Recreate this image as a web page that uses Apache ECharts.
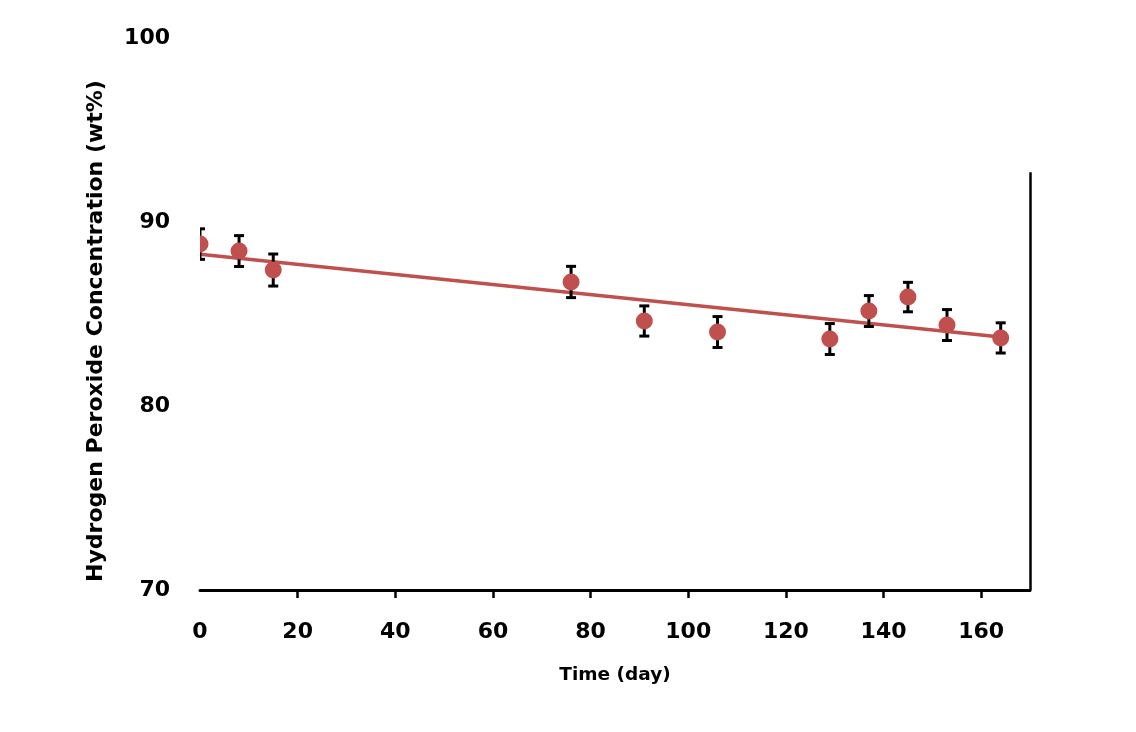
<!DOCTYPE html>
<html><head><meta charset="utf-8">
<script src="https://cdn.jsdelivr.net/npm/echarts@6/dist/echarts.min.js"></script>
<style>html,body{margin:0;padding:0;background:#fff}#c{width:1136px;height:732px}</style>
</head><body><div id="c"></div>
<script>
const days = [0, 8, 15, 76, 91, 106, 129, 137, 145, 153, 164];
const conc = [88.80, 88.42, 87.39, 86.74, 84.62, 84.02, 83.64, 85.16, 85.92, 84.40, 83.70];
const errs = [0.83, 0.84, 0.87, 0.85, 0.82, 0.84, 0.84, 0.84, 0.80, 0.84, 0.82];
const trendX = [0, 164];
const trendY = [88.25, 83.75];
const xTicks = [0, 20, 40, 60, 80, 100, 120, 140, 160];
const yTicks = [70, 80, 90, 100];
const rightLine = [[170, 70], [170, 92.7]];

const font = '"DejaVu Sans", sans-serif';
const red = '#c0504d';
const chart = echarts.init(document.getElementById('c'));
chart.setOption({
  animation: false,
  grid: { left: 200, right: 106, top: 38, bottom: 142 },
  xAxis: {
    type: 'value', min: 0, max: 170, interval: 20,
    name: 'Time (day)', nameLocation: 'middle', nameGap: 76,
    nameTextStyle: { fontFamily: font, fontWeight: 'bold', fontSize: 18.5, color: '#000' },
    axisLine: { show: true, lineStyle: { color: '#000', width: 3 } },
    axisTick: { show: true, length: 8, inside: false, customValues: xTicks.slice(1), lineStyle: { color: '#000', width: 2.5 } },
    axisLabel: { customValues: xTicks, margin: 31, fontFamily: font, fontWeight: 'bold', fontSize: 22, color: '#000' },
    splitLine: { show: false }
  },
  yAxis: {
    type: 'value', min: 70, max: 100, interval: 10,
    name: 'Hydrogen Peroxide Concentration (wt%)', nameLocation: 'middle', nameGap: 93,
    nameTextStyle: { fontFamily: font, fontWeight: 'bold', fontSize: 22, color: '#000', padding: [0, 34, 0, 0] },
    axisLine: { show: false }, axisTick: { show: false },
    axisLabel: { customValues: yTicks, margin: 30, fontFamily: font, fontWeight: 'bold', fontSize: 22, color: '#000' },
    splitLine: { show: false }
  },
  series: [
    {
      type: 'line', data: trendX.map((x, i) => [x, trendY[i]]), symbol: 'none',
      lineStyle: { color: red, width: 3.5 }, z: 2, silent: true,
      markLine: {
        silent: true, symbol: 'none', label: { show: false },
        lineStyle: { color: '#000', width: 2.5, type: 'solid' },
        data: [[{ coord: rightLine[0] }, { coord: rightLine[1] }]]
      }
    },
    {
      type: 'custom', clip: true, z: 3,
      data: days.map((d, i) => [d, conc[i] - errs[i], conc[i] + errs[i]]),
      renderItem: function (params, api) {
        const lo = api.coord([api.value(0), api.value(1)]);
        const hi = api.coord([api.value(0), api.value(2)]);
        const w = 5;
        const st = { stroke: '#000', lineWidth: 3 };
        return { type: 'group', children: [
          { type: 'line', shape: { x1: hi[0], y1: hi[1], x2: lo[0], y2: lo[1] }, style: st },
          { type: 'line', shape: { x1: hi[0] - w, y1: hi[1], x2: hi[0] + w, y2: hi[1] }, style: st },
          { type: 'line', shape: { x1: lo[0] - w, y1: lo[1], x2: lo[0] + w, y2: lo[1] }, style: st }
        ]};
      }
    },
    {
      type: 'custom', clip: true, z: 4,
      data: days.map((d, i) => [d, conc[i]]),
      renderItem: function (params, api) {
        const p = api.coord([api.value(0), api.value(1)]);
        return { type: 'circle', shape: { cx: p[0], cy: p[1], r: 8.5 }, style: { fill: red } };
      }
    }
  ]
});
</script></body></html>
